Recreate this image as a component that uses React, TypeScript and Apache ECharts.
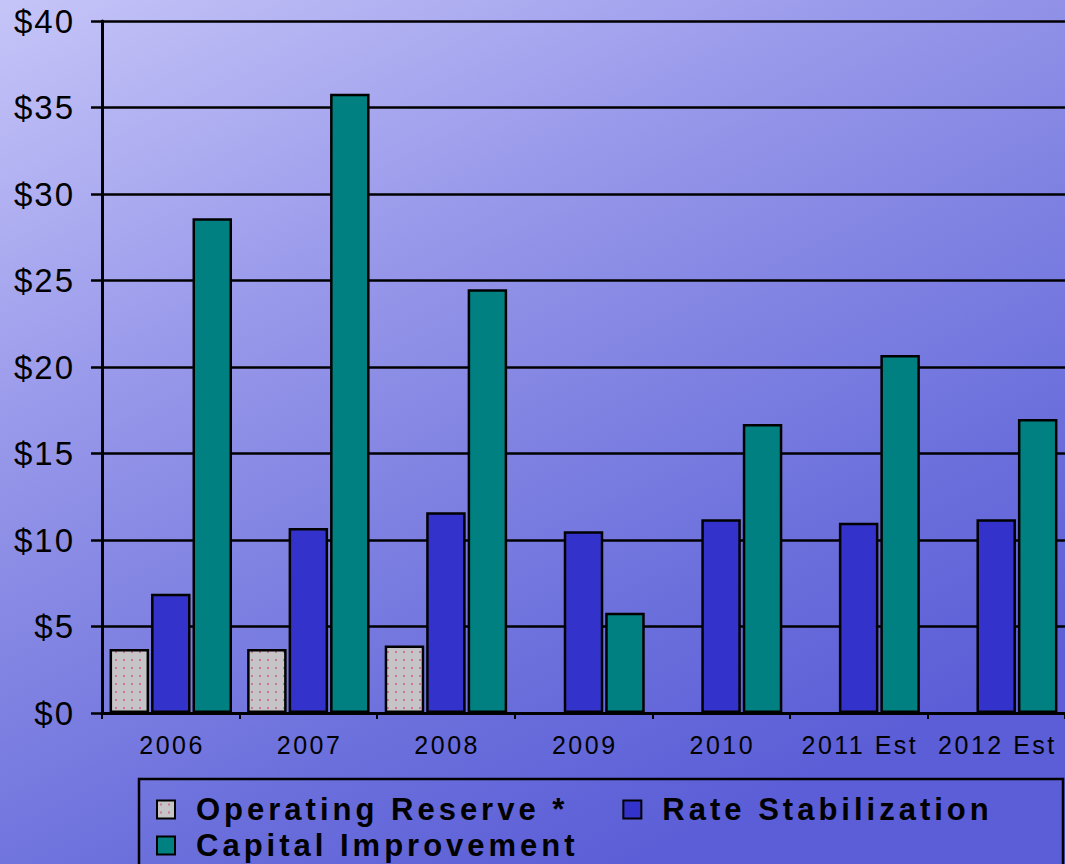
import React, { useEffect, useRef } from "react";
import * as echarts from "echarts";

// Reserve fund balances, millions of dollars
const categories = ["2006", "2007", "2008", "2009", "2010", "2011 Est", "2012 Est"];
const operatingReserve = [3.7, 3.7, 3.9, null, null, null, null];
const rateStabilization = [6.9, 10.7, 11.6, 10.5, 11.2, 11.0, 11.2];
const capitalImprovement = [28.6, 35.8, 24.5, 5.8, 16.7, 20.7, 17.0];

const yMin = 0;
const yMax = 40;
const yStep = 5;

const seriesNames = ["Operating Reserve *", "Rate Stabilization", "Capital Improvement"];

// Light grey fill with a grid of small rose dots
function dottedPattern(): HTMLCanvasElement {
  const c = document.createElement("canvas");
  c.width = 8;
  c.height = 8;
  const ctx = c.getContext("2d")!;
  ctx.fillStyle = "#c6c4c6";
  ctx.fillRect(0, 0, 8, 8);
  ctx.fillStyle = "#c8608c";
  ctx.beginPath();
  ctx.arc(4, 4, 1, 0, Math.PI * 2);
  ctx.fill();
  return c;
}

// Wide tracking for the legend and axis texts, keyed on their font sizes
const css = `
.reserve-chart text[style*="31px"] { letter-spacing: 4px; }
.reserve-chart text[style*="33px"] { letter-spacing: 2px; }
.reserve-chart text[style*="25px"] { letter-spacing: 2.5px; }
`;

export default function App() {
  const ref = useRef<HTMLDivElement>(null);

  useEffect(() => {
    if (!ref.current) return;
    const chart = echarts.init(ref.current, undefined, { renderer: "svg" });
    const pattern = { image: dottedPattern(), repeat: "repeat" } as any;
    const border = { borderColor: "#000", borderWidth: 2.5 };
    const legendText = {
      fontFamily: "Liberation Sans",
      fontWeight: "bold",
      fontSize: 31,
      color: "#000",
      padding: [0, 0, 0, 16],
    };

    chart.setOption({
      animation: false,
      backgroundColor: {
        type: "linear",
        x: 0,
        y: 0,
        x2: 0.6,
        y2: 1,
        colorStops: [
          { offset: 0, color: "#c6c5f8" },
          { offset: 0.34, color: "#9c9cec" },
          { offset: 0.46, color: "#8e8fe6" },
          { offset: 0.78, color: "#6c70dc" },
          { offset: 1, color: "#5b5ed6" },
        ],
      },
      grid: { left: 102, top: 21, right: -9, bottom: 151 },
      legend: [
        {
          data: [seriesNames[0], seriesNames[1]],
          left: 156,
          top: 794,
          padding: 0,
          itemWidth: 18,
          itemHeight: 18,
          itemGap: 130,
          icon: "rect",
          itemStyle: { borderColor: "#000", borderWidth: 2 },
          textStyle: legendText,
          selectedMode: false,
        },
        {
          data: [seriesNames[2]],
          left: 156,
          top: 830,
          padding: 0,
          itemWidth: 18,
          itemHeight: 18,
          icon: "rect",
          itemStyle: { borderColor: "#000", borderWidth: 2 },
          textStyle: legendText,
          selectedMode: false,
        },
      ],
      xAxis: {
        type: "category",
        data: categories,
        boundaryGap: true,
        axisLine: { lineStyle: { color: "#000", width: 3 } },
        axisTick: { show: true, length: 6, lineStyle: { color: "#000", width: 2 } },
        axisLabel: {
          fontFamily: "Liberation Sans",
          fontSize: 25,
          color: "#000",
          margin: 19,
          padding: [0, 0, 0, 2.5],
          interval: 0,
        },
        splitLine: { show: false },
      },
      yAxis: {
        type: "value",
        min: yMin,
        max: yMax,
        interval: yStep,
        axisLine: { show: true, lineStyle: { color: "#000", width: 3 } },
        axisTick: { show: true, length: 11, lineStyle: { color: "#000", width: 2.5 } },
        axisLabel: {
          fontFamily: "Liberation Sans",
          fontSize: 33,
          color: "#000",
          margin: 27,
          formatter: (v: number) => "$" + v,
        },
        splitLine: { show: true, lineStyle: { color: "#000", width: 2.5 } },
      },
      series: [
        {
          name: seriesNames[0],
          type: "bar",
          data: operatingReserve,
          barGap: "5%",
          barCategoryGap: "11%",
          itemStyle: { color: pattern, ...border },
        },
        {
          name: seriesNames[1],
          type: "bar",
          data: rateStabilization,
          itemStyle: { color: "#3333cc", ...border },
        },
        {
          name: seriesNames[2],
          type: "bar",
          data: capitalImprovement,
          itemStyle: { color: "#008080", ...border },
        },
      ],
      graphic: [
        {
          type: "rect",
          shape: { x: 139, y: 779, width: 924, height: 120 },
          style: { fill: "none", stroke: "#000", lineWidth: 2.5 },
          silent: true,
        },
      ],
    });

    return () => chart.dispose();
  }, []);

  return (
    <>
      <style>{css}</style>
      <div
        ref={ref}
        className="reserve-chart"
        style={{ position: "absolute", left: 0, top: 0, width: 1065, height: 864 }}
      />
    </>
  );
}
